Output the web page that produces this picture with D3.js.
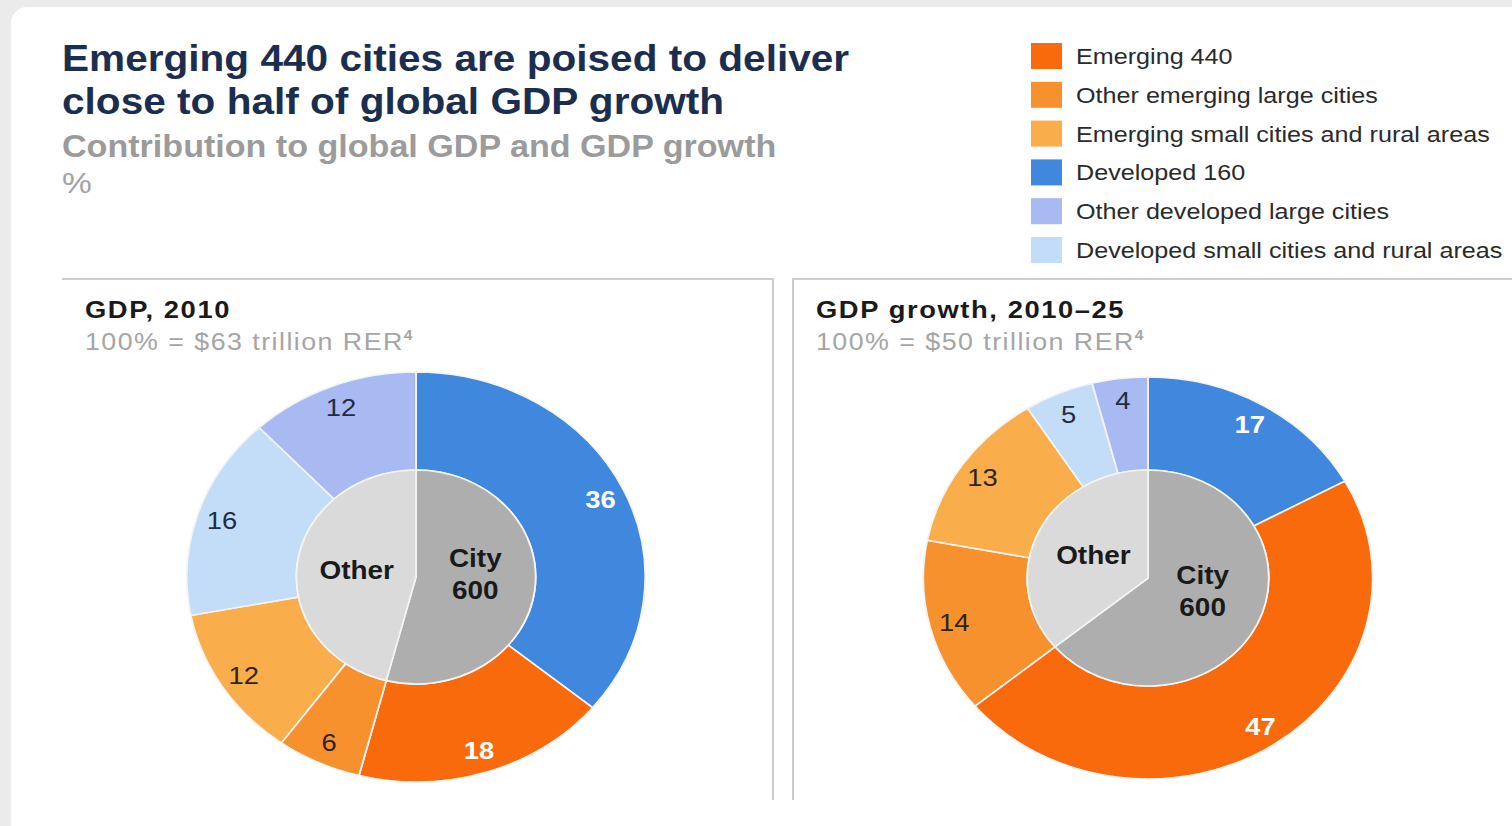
<!DOCTYPE html>
<html>
<head>
<meta charset="utf-8">
<script src="https://cdn.jsdelivr.net/npm/d3@7"></script>
<style>
  body { margin: 0; background: #fff; }
  svg { display: block; }
  text { font-family: "Liberation Sans", Arial, Helvetica, sans-serif; }
</style>
</head>
<body>
<svg id="chart" width="1512" height="826"></svg>
<script>
// ---- data -------------------------------------------------------------
const categories = [
  "Emerging 440",
  "Other emerging large cities",
  "Emerging small cities and rural areas",
  "Developed 160",
  "Other developed large cities",
  "Developed small cities and rural areas"
];
const categoryColors = ["#F96A0C", "#F7912E", "#F9AD4B", "#3F88DE", "#A9B9F1", "#C3DCF7"];

// order of the outer ring, clockwise from 12 o'clock
const ringOrder = [
  "Developed 160",
  "Emerging 440",
  "Other emerging large cities",
  "Emerging small cities and rural areas",
  "Developed small cities and rural areas",
  "Other developed large cities"
];

// shares in %, same order as `categories`
const gdp2010 = [18, 6, 12, 36, 12, 16];
const gdpGrowth2010to25 = [47, 14, 13, 17, 4, 5];

// the City 600 = Developed 160 + Emerging 440
const city600Members = ["Developed 160", "Emerging 440"];
const innerLabels = ["City 600", "Other"];
const innerColors = ["#AEAEAE", "#DADADA"];

// segments whose value label is drawn in white
const whiteLabelSegments = ["Developed 160", "Emerging 440"];

const panels = [
  { title: "GDP, 2010", base: "100% = $63 trillion RER", note: "4", values: gdp2010 },
  { title: "GDP growth, 2010\u201325", base: "100% = $50 trillion RER", note: "4", values: gdpGrowth2010to25 }
];

// ---- drawing ----------------------------------------------------------
const svg = d3.select("#chart");
const SX = 1.118;   // horizontal stretch of the layout

// card background
svg.append("rect").attr("width", 1512).attr("height", 826).attr("fill", "#ebebeb");
svg.append("rect").attr("x", 11).attr("y", 7).attr("width", 1540).attr("height", 860)
  .attr("rx", 16).attr("fill", "#ffffff");

function stretchedText(parent, x, y, str) {
  return parent.append("text")
    .attr("transform", `translate(${x},${y}) scale(${SX},1)`)
    .text(str);
}

// title block
stretchedText(svg, 62, 71, "Emerging 440 cities are poised to deliver")
  .attr("font-size", 36.3).attr("font-weight", "bold").attr("fill", "#1C2E50");
stretchedText(svg, 62, 114, "close to half of global GDP growth")
  .attr("font-size", 36.3).attr("font-weight", "bold").attr("fill", "#1C2E50");
stretchedText(svg, 62, 157, "Contribution to global GDP and GDP growth")
  .attr("font-size", 30.5).attr("font-weight", "bold").attr("fill", "#9B9B9B");
stretchedText(svg, 62, 193, "%")
  .attr("font-size", 30).attr("fill", "#A3A3A3");

// legend
const colorOf = d3.scaleOrdinal().domain(categories).range(categoryColors);
const legendY = d3.scalePoint().domain(categories).range([56, 250]);
const legend = svg.append("g");
categories.forEach(c => {
  legend.append("rect")
    .attr("x", 1031).attr("y", legendY(c) - 13)
    .attr("width", 31).attr("height", 26)
    .attr("fill", colorOf(c));
  stretchedText(legend, 1076, legendY(c) + 8, c)
    .attr("font-size", 22.5).attr("fill", "#2A2A2A");
});

// panel frames
svg.append("path").attr("d", "M62,279H773V800")
  .attr("fill", "none").attr("stroke", "#CDCDCD").attr("stroke-width", 2);
svg.append("path").attr("d", "M793,800V279H1512")
  .attr("fill", "none").attr("stroke", "#CDCDCD").attr("stroke-width", 2);

const layout = [
  { hx: 85, cx: 416, cy: 577, rOut: 205, rIn: 107 },
  { hx: 816, cx: 1148, cy: 578, rOut: 201, rIn: 108 }
];

const pie = d3.pie().sort(null).value(d => d.value);

panels.forEach((p, i) => {
  const L = layout[i];

  // panel heading
  stretchedText(svg, L.hx, 318, p.title)
    .attr("font-size", 24.5).attr("letter-spacing", 1.4)
    .attr("font-weight", "bold").attr("fill", "#1A1A1A");
  const sub = stretchedText(svg, L.hx, 350, p.base)
    .attr("font-size", 24).attr("letter-spacing", 1.3).attr("fill", "#A5A5A5");
  sub.append("tspan").attr("font-size", 14).attr("font-weight", "bold")
    .attr("dy", -10).text(p.note);

  const valueOf = d3.scaleOrdinal().domain(categories).range(p.values);
  const ring = ringOrder.map(name => ({ name, value: valueOf(name) }));
  const cityShare = d3.sum(city600Members, n => valueOf(n));
  const inner = [
    { name: innerLabels[0], value: cityShare },
    { name: innerLabels[1], value: d3.sum(p.values) - cityShare }
  ];

  const g = svg.append("g")
    .attr("transform", `translate(${L.cx},${L.cy}) scale(${SX},1)`);

  const ringArc = d3.arc().innerRadius(L.rIn).outerRadius(L.rOut);
  const labelArc = d3.arc().innerRadius(L.rOut * 0.89).outerRadius(L.rOut * 0.89);
  const innerArc = d3.arc().innerRadius(0).outerRadius(L.rIn);
  const innerLabelArc = d3.arc().innerRadius(L.rIn * 0.5).outerRadius(L.rIn * 0.5);

  const ringData = pie(ring);
  g.selectAll("path.seg").data(ringData).join("path")
    .attr("class", "seg")
    .attr("d", ringArc)
    .attr("fill", d => colorOf(d.data.name))
    .attr("stroke", "#F4F4F4").attr("stroke-width", 1.6);

  const innerData = pie(inner);
  g.selectAll("path.core").data(innerData).join("path")
    .attr("class", "core")
    .attr("d", innerArc)
    .attr("fill", (d, j) => innerColors[j])
    .attr("stroke", "#F4F4F4").attr("stroke-width", 1.6);

  // value labels on the ring
  g.selectAll("text.val").data(ringData).join("text")
    .attr("class", "val")
    .attr("transform", d => `translate(${labelArc.centroid(d)})`)
    .attr("text-anchor", "middle")
    .attr("dy", "0.36em")
    .attr("font-size", 24.5)
    .attr("font-weight", d => whiteLabelSegments.includes(d.data.name) ? "bold" : "normal")
    .attr("fill", d => whiteLabelSegments.includes(d.data.name) ? "#FFFFFF"
      : (d.data.name.includes("eveloped") ? "#1F2C47" : "#2E2418"))
    .text(d => d.data.value);

  // City 600 / Other labels
  innerData.forEach(d => {
    const [x, y] = innerLabelArc.centroid(d);
    const words = d.data.name.split(" ");
    const t = g.append("text")
      .attr("text-anchor", "middle")
      .attr("font-size", 25).attr("font-weight", "bold").attr("fill", "#1A1A1A");
    const shift = words.length > 1 ? -1 : 9;
    words.forEach((w, k) => {
      t.append("tspan").attr("x", x)
        .attr("y", y + (k - (words.length - 1) / 2) * 32 + shift)
        .text(w);
    });
  });
});
</script>
</body>
</html>
